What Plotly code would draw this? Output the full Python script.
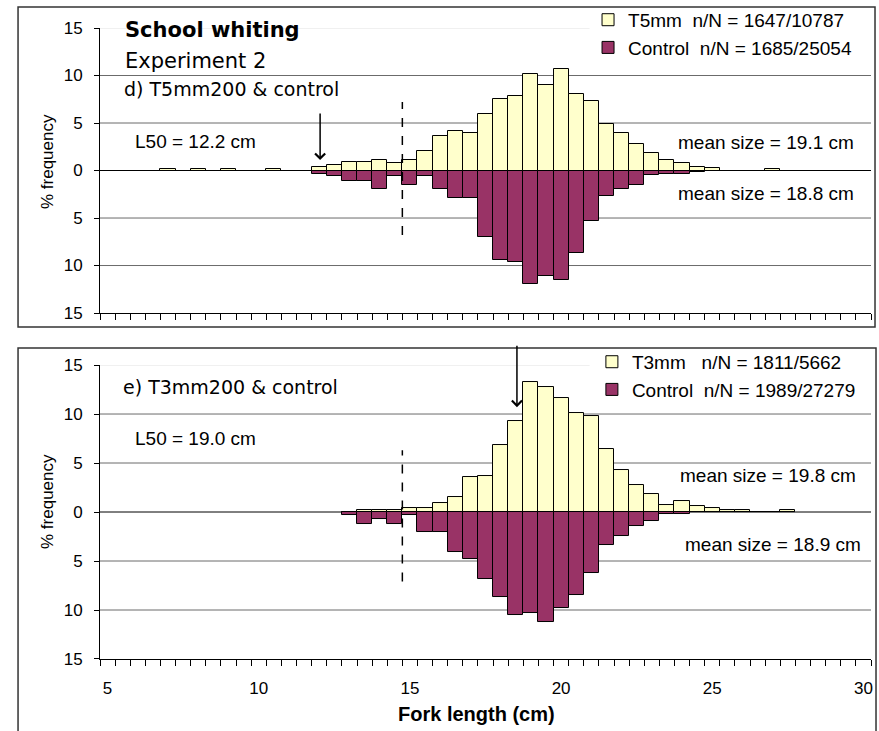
import plotly.graph_objects as go

# Fork length classes (cm, 0.5 cm bins) and % frequency per class
len_d = [7.0, 7.5, 8.0, 8.5, 9.0, 9.5, 10.0, 10.5, 11.0, 11.5, 12.0, 12.5, 13.0, 13.5,
         14.0, 14.5, 15.0, 15.5, 16.0, 16.5, 17.0, 17.5, 18.0, 18.5, 19.0, 19.5, 20.0,
         20.5, 21.0, 21.5, 22.0, 22.5, 23.0, 23.5, 24.0, 24.5, 25.0, 25.5, 26.0, 26.5, 27.0]
t5mm = [0.15, 0, 0.15, 0, 0.15, 0, 0, 0.15, 0, 0, 0.42, 0.63, 0.91, 0.91,
        1.12, 0.77, 1.12, 2.03, 3.6, 4.13, 3.92, 6.0, 7.5, 7.87, 10.14, 9.02, 10.73,
        8.08, 7.3, 4.86, 3.92, 2.8, 1.85, 1.12, 0.77, 0.35, 0.3, 0, 0, 0, 0.15]
ctrl_d = [0, 0, 0, 0, 0, 0, 0, 0, 0, 0, 0.35, 0.6, 1.15, 1.15,
          1.92, 0.6, 1.5, 0.6, 1.92, 2.87, 2.87, 7.0, 9.44, 9.6, 11.9, 11.1, 11.54,
          8.67, 5.31, 2.69, 1.92, 1.5, 0.52, 0.35, 0.35, 0.17, 0, 0, 0, 0, 0]

len_e = [13.0, 13.5, 14.0, 14.5, 15.0, 15.5, 16.0, 16.5, 17.0, 17.5, 18.0, 18.5, 19.0,
         19.5, 20.0, 20.5, 21.0, 21.5, 22.0, 22.5, 23.0, 23.5, 24.0, 24.5, 25.0, 25.5,
         26.0, 26.5, 27.0, 27.5]
t3mm = [0, 0.24, 0.2, 0.2, 0.45, 0.45, 0.92, 1.5, 3.53, 3.7, 6.8, 9.25, 13.3,
        12.74, 11.6, 10.1, 9.76, 6.44, 4.25, 2.74, 1.85, 0.72, 1.13, 0.58, 0.45, 0.2,
        0.2, 0, 0, 0.2]
ctrl_e = [0.34, 1.27, 0.72, 1.27, 0.34, 2.02, 2.02, 4.04, 4.8, 6.85, 8.66, 10.55, 10.27,
          11.23, 9.76, 8.46, 6.23, 3.32, 2.4, 1.47, 0.92, 0.17, 0.17, 0, 0, 0,
          0, 0, 0, 0]

x_ticks = [5, 10, 15, 20, 25, 30]
y_ticks = [-15, -10, -5, 0, 5, 10, 15]
y_labels = ['15', '10', '5', '0', '5', '10', '15']
grid_levels = [-10, -5, 5, 10]

YELLOW = '#FFFFCC'
MAROON = '#993366'
ARIAL = 'Liberation Sans, Arial, sans-serif'
WIDE = 'DejaVu Sans, sans-serif'

bin_edges = [4.75 + 0.5 * k for k in range(52)]

fig = go.Figure()
fig.add_trace(go.Bar(x=len_d, y=t5mm, width=0.5, name='T5mm  n/N = 1647/10787',
                     marker=dict(color=YELLOW, line=dict(color='black', width=1)),
                     xaxis='x', yaxis='y', legend='legend'))
fig.add_trace(go.Bar(x=len_d, y=[-v for v in ctrl_d], width=0.5, name='Control  n/N = 1685/25054',
                     marker=dict(color=MAROON, line=dict(color='black', width=1)),
                     xaxis='x', yaxis='y', legend='legend'))
fig.add_trace(go.Bar(x=len_e, y=t3mm, width=0.5, name='T3mm   n/N = 1811/5662',
                     marker=dict(color=YELLOW, line=dict(color='black', width=1)),
                     xaxis='x2', yaxis='y2', legend='legend2'))
fig.add_trace(go.Bar(x=len_e, y=[-v for v in ctrl_e], width=0.5, name='Control  n/N = 1989/27279',
                     marker=dict(color=MAROON, line=dict(color='black', width=1)),
                     xaxis='x2', yaxis='y2', legend='legend2'))

xcommon = dict(range=[4.75, 30.25], tickvals=x_ticks, ticks='', showline=True,
               linecolor='black', linewidth=1, showgrid=False, zeroline=False,
               ticklabelstandoff=14,
               tickfont=dict(family=ARIAL, size=17, color='black'),
               minor=dict(tickvals=bin_edges, ticks='outside', ticklen=6,
                          tickcolor='black', showgrid=False))
ycommon = dict(range=[-15, 15], tickvals=y_ticks, ticktext=y_labels, ticks='outside',
               ticklen=5, tickcolor='black', showline=True, linecolor='black', linewidth=1,
               showgrid=False, zeroline=False, ticklabelstandoff=8,
               tickfont=dict(family=ARIAL, size=17, color='black'))

legend_style = dict(xanchor='left', yanchor='top', bgcolor='rgba(0,0,0,0)', traceorder='normal',
                    font=dict(family=ARIAL, size=19, color='black'), tracegroupgap=0)

fig.update_layout(
    width=879, height=731,
    margin=dict(l=100, r=8, t=28, b=72, autoexpand=False),
    paper_bgcolor='white', plot_bgcolor='white',
    barmode='overlay', bargap=0,
    xaxis=dict(xcommon, anchor='y', showticklabels=False),
    yaxis=dict(ycommon, domain=[0.5483, 1], anchor='x'),
    xaxis2=dict(xcommon, anchor='y2'),
    yaxis2=dict(ycommon, domain=[0, 0.4659], anchor='x2'),
    legend=dict(legend_style, x=0.633, y=1.043),
    legend2=dict(legend_style, x=0.638, y=0.501),
)

# gridlines (behind the bars); the light top line stops where the legend box starts
for ya, xa in (('y', 'x'), ('y2', 'x2')):
    for lv in grid_levels:
        fig.add_shape(type='line', xref=xa + ' domain', x0=0, x1=1, yref=ya, y0=lv, y1=lv,
                      line=dict(color='#6b6b6b', width=1), layer='below')
    fig.add_shape(type='line', xref=xa + ' domain', x0=0, x1=0.635, yref=ya, y0=15, y1=15,
                  line=dict(color='#e2e2e2', width=1), layer='below')
    fig.add_shape(type='line', xref=xa + ' domain', x0=0, x1=1, yref=ya, y0=0, y1=0,
                  line=dict(color='black', width=1), layer='below')

# dashed reference lines
fig.add_shape(type='line', xref='x', yref='y', x0=14.75, x1=14.75, y0=-6.8, y1=7.2,
              line=dict(color='black', width=1.5, dash='dash'))
fig.add_shape(type='line', xref='x2', yref='y2', x0=14.75, x1=14.75, y0=-7.1, y1=6.3,
              line=dict(color='black', width=1.5, dash='dash'))

# panel frames
fig.add_shape(type='rect', xref='paper', yref='paper', x0=-0.1063, x1=1.0052,
              y0=0.5261, y1=1.0333, line=dict(color='#333333', width=1.5))
fig.add_shape(type='rect', xref='paper', yref='paper', x0=-0.1063, x1=1.0065,
              y0=-0.13, y1=0.4929, line=dict(color='#333333', width=1.5))

# L50 arrows
fig.add_annotation(x=12.03, y=1.1, xref='x', yref='y', text='', showarrow=True,
                   ax=0, ay=-48, arrowhead=4, arrowsize=1.3, arrowwidth=1.5, arrowcolor='black')
fig.add_annotation(x=18.54, y=10.7, xref='x2', yref='y2', text='', showarrow=True,
                   ax=0, ay=-63, arrowhead=4, arrowsize=1.3, arrowwidth=1.5, arrowcolor='black')

labels = [
    ('<b>School whiting</b>', 0.0298, 0.9968, WIDE, 21),
    ('Experiment 2', 0.0298, 0.9477, WIDE, 21),
    ('d) T5mm200 &amp; control', 0.0285, 0.9033, WIDE, 19),
    ('L50 = 12.2 cm', 0.0428, 0.8209, ARIAL, 19),
    ('mean size = 19.1 cm', 0.7471, 0.8193, ARIAL, 19),
    ('mean size = 18.8 cm', 0.7471, 0.7385, ARIAL, 19),
    ('e) T3mm200 &amp; control', 0.0272, 0.4311, WIDE, 19),
    ('L50 = 19.0 cm', 0.0428, 0.3487, ARIAL, 19),
    ('mean size = 19.8 cm', 0.7497, 0.2916, ARIAL, 19),
    ('mean size = 18.9 cm', 0.7562, 0.1807, ARIAL, 19),
]
for txt, xp, yp, fam, sz in labels:
    fig.add_annotation(text=txt, x=xp, y=yp, xref='paper', yref='paper', showarrow=False,
                       xanchor='left', yanchor='middle',
                       font=dict(family=fam, size=sz, color='black'))

# axis titles
for yp in (0.7876, 0.2488):
    fig.add_annotation(text='% frequency', x=0, xshift=-53, y=yp, xref='paper', yref='paper',
                       showarrow=False, textangle=-90, xanchor='center', yanchor='middle',
                       font=dict(family=ARIAL, size=17, color='black'))
fig.add_annotation(text='<b>Fork length (cm)</b>', x=0.4877, y=-0.0872, xref='paper',
                   yref='paper', showarrow=False, xanchor='center', yanchor='middle',
                   font=dict(family=ARIAL, size=20, color='black'))

fig.write_html("out.html", config={'displayModeBar': False},
               post_script="document.body.style.margin = '0';")
